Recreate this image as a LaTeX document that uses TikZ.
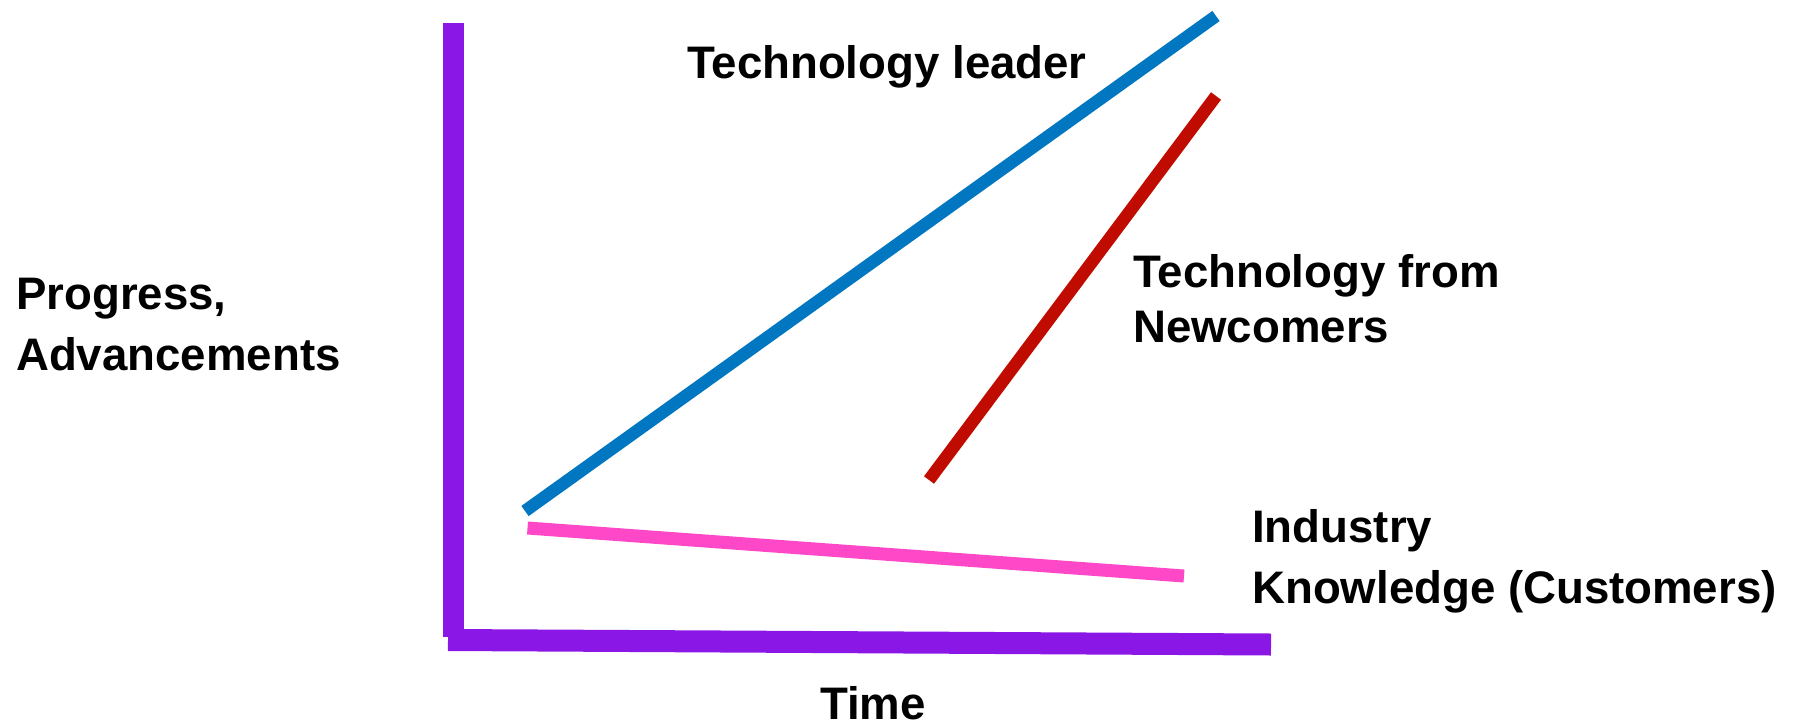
\documentclass[tikz,border=0pt]{standalone}
\usepackage{fontspec}
\setmainfont{Liberation Sans}
\definecolor{axispurple}{RGB}{138,23,229}
\definecolor{leadblue}{RGB}{0,119,192}
\definecolor{newred}{RGB}{192,12,0}
\definecolor{custpink}{RGB}{255,72,200}
\begin{document}
\begin{tikzpicture}[x=1pt,y=-1pt,
  lbl/.style={anchor=base west, inner sep=0pt, font=\fontsize{45.6}{54}\selectfont\bfseries},
  axisline/.style={draw=axispurple, line width=21pt},
  curve/.style={line width=12.5pt}]
\path[use as bounding box] (0,0) rectangle (1793,723);
% axes
\coordinate (ytop) at (453,23);
\coordinate (ybot) at (453,637);
\coordinate (xleft) at (448,640);
\coordinate (xright) at (1271,644.5);
\draw[axisline] (ytop) -- (ybot);
\draw[axisline, line width=22pt] (xleft) -- (xright);
% curves
\coordinate (b1) at (525,511);
\coordinate (b2) at (1216,16);
\coordinate (r1) at (929,480);
\coordinate (r2) at (1216,96);
\coordinate (p1) at (527.5,528);
\coordinate (p2) at (1184,576);
\draw[curve, draw=leadblue] (b1) -- (b2);
\draw[curve, draw=newred] (r1) -- (r2);
\draw[curve, draw=custpink, line width=13pt] (p1) -- (p2);
% labels
\node[lbl] (lead) at (687,78) {Technology leader};
\node[lbl] (new1) at (1133,287) {Technology from};
\node[lbl] (new2) at (1133,342) {Newcomers};
\node[lbl] (ind1) at (1252,542) {Industry};
\node[lbl] (ind2) at (1252,603) {Knowledge (Customers)};
\node[lbl] (prog1) at (16,309) {Progress,};
\node[lbl] (prog2) at (16,370) {Advancements};
\node[lbl, anchor=base] (time) at (873,719) {Time};
\end{tikzpicture}
\end{document}
